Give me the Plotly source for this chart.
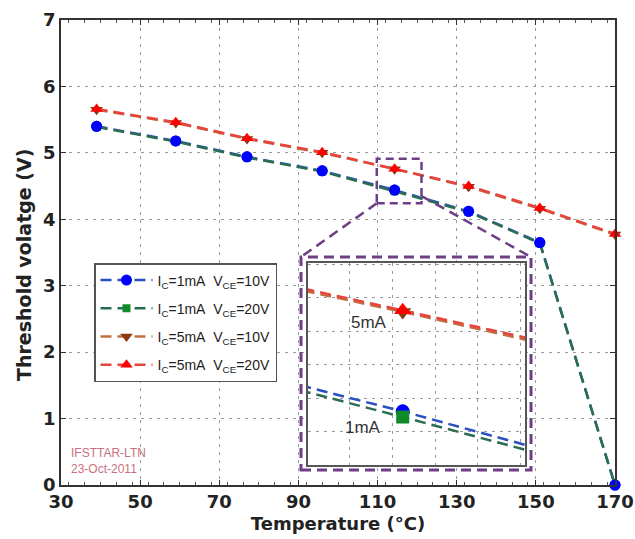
import plotly.graph_objects as go

# ---------------- data ----------------
temps = [39, 59, 77, 96, 114.3, 133, 151, 170]
vth_1mA_10V = [5.40, 5.18, 4.94, 4.73, 4.44, 4.12, 3.65, 0.0]
vth_1mA_20V = [5.39, 5.17, 4.93, 4.72, 4.422, 4.11, 3.64, 0.0]
vth_5mA_10V = [5.65, 5.45, 5.21, 5.00, 4.755, 4.49, 4.16, 3.77]
vth_5mA_20V = [5.66, 5.46, 5.22, 5.01, 4.76, 4.50, 4.17, 3.78]

series_names = [
    "I<sub>C</sub>=1mA&nbsp;&nbsp;V<sub>CE</sub>=10V",
    "I<sub>C</sub>=1mA&nbsp;&nbsp;V<sub>CE</sub>=20V",
    "I<sub>C</sub>=5mA&nbsp;&nbsp;V<sub>CE</sub>=10V",
    "I<sub>C</sub>=5mA&nbsp;&nbsp;V<sub>CE</sub>=20V",
]
x_ticks = [30, 50, 70, 90, 110, 130, 150, 170]
y_ticks = [0, 1, 2, 3, 4, 5, 6, 7]
x_range = [30, 170]
y_range = [0, 7]

# zoomed window shown in inset
inset_x_range = [109.5, 120.5]
inset_y_range = [4.27, 4.91]

# ---------------- styles ----------------
styles = [
    dict(line="#2a4fc0", marker="#0000ff", symbol="circle", size=11, isize=14),
    dict(line="#2b6e4f", marker="#118a2a", symbol="square", size=8, isize=13),
    dict(line="#c07040", marker="#8b3a10", symbol="triangle-down", size=11, isize=15),
    dict(line="#e6443c", marker="#ff0000", symbol="triangle-up", size=11, isize=15),
]
data = [vth_1mA_10V, vth_1mA_20V, vth_5mA_10V, vth_5mA_20V]

FONT = "DejaVu Sans, Arial, sans-serif"
ARIAL = "Arial, Liberation Sans, sans-serif"
DASH = "11px,6px"

fig = go.Figure()

for i in [0, 1, 2, 3]:
    s = styles[i]
    fig.add_trace(go.Scatter(
        x=temps, y=data[i], name=series_names[i], mode="lines+markers",
        line=dict(color=s["line"], width=2.5, dash=DASH),
        marker=dict(color=s["marker"], symbol=s["symbol"], size=s["size"],
                    line=dict(width=0)),
        cliponaxis=False, legendgroup=f"g{i}",
        xaxis="x", yaxis="y",
    ))
    if i == 1:
        # blue markers drawn on top of the green series in the main plot
        s0 = styles[0]
        fig.add_trace(go.Scatter(
            x=temps, y=data[0], mode="markers", showlegend=False,
            marker=dict(color=s0["marker"], symbol=s0["symbol"], size=s0["size"],
                        line=dict(width=0)),
            cliponaxis=False, xaxis="x", yaxis="y",
        ))

# inset traces
for i in [0, 1, 2, 3]:
    s = styles[i]
    fig.add_trace(go.Scatter(
        x=temps, y=data[i], mode="lines+markers", showlegend=False,
        line=dict(color=s["line"], width=2.5, dash=DASH),
        marker=dict(color=s["marker"], symbol=s["symbol"], size=s["isize"],
                    line=dict(width=0)),
        cliponaxis=True, xaxis="x2", yaxis="y2",
    ))

W, H = 635, 539
ml, mr, mt, mb = 61, 20, 20, 54
pw, ph = W - ml - mr, H - mt - mb

def px2paper_x(px):
    return (px - ml) / pw

def px2paper_y(py):
    return 1 - (py - mt) / ph

def dx2paper(x):
    return (x - x_range[0]) / (x_range[1] - x_range[0])

def dy2paper(y):
    return (y - y_range[0]) / (y_range[1] - y_range[0])

inset_dom_x = [px2paper_x(308), px2paper_x(525)]
inset_dom_y = [px2paper_y(465), px2paper_y(263)]
outer = dict(x0=px2paper_x(301), x1=px2paper_x(531), y0=px2paper_y(470), y1=px2paper_y(257))

purple = "#6e3f86"
shapes = []
shapes.append(dict(type="rect", xref="x", yref="y",
                   x0=inset_x_range[0] + 0.3, x1=inset_x_range[1] + 0.6,
                   y0=inset_y_range[0] - 0.03, y1=inset_y_range[1],
                   line=dict(color=purple, width=2.5, dash="8px,5px"), layer="above"))
shapes.append(dict(type="rect", xref="paper", yref="paper", **outer,
                   line=dict(color=purple, width=3, dash="10px,6px"), layer="above"))
shapes.append(dict(type="line", xref="paper", yref="paper",
                   x0=dx2paper(inset_x_range[0] + 0.3), y0=dy2paper(inset_y_range[0] - 0.03),
                   x1=outer["x0"], y1=outer["y1"],
                   line=dict(color=purple, width=2.5, dash="10px,6px"), layer="above"))
shapes.append(dict(type="line", xref="paper", yref="paper",
                   x0=dx2paper(inset_x_range[1] + 0.6), y0=dy2paper(inset_y_range[0] + 0.08),
                   x1=outer["x1"], y1=outer["y1"],
                   line=dict(color=purple, width=2.5, dash="10px,6px"), layer="above"))

annotations = [
    dict(text="IFSTTAR-LTN<br>23-Oct-2011", xref="paper", yref="paper",
         x=px2paper_x(69), y=px2paper_y(461), xanchor="left", yanchor="middle",
         showarrow=False, align="left", font=dict(family=ARIAL, size=12, color="#c9707e")),
    dict(text="5mA", xref="x2", yref="y2", x=112.6, y=4.72, showarrow=False,
         font=dict(family=ARIAL, size=17, color="#333333")),
    dict(text="1mA", xref="x2", yref="y2", x=112.3, y=4.39, showarrow=False,
         font=dict(family=ARIAL, size=17, color="#333333")),
    dict(text="Threshold volatge (V)", xref="paper", yref="paper", textangle=-90,
         x=px2paper_x(24), y=px2paper_y(265), xanchor="center", yanchor="middle",
         showarrow=False,
         font=dict(family=FONT, size=19, color="#222", weight="bold")),
]

grid_common = dict(gridcolor="#9a9a9a", griddash="3px,5px", gridwidth=1)

fig.update_layout(
    width=W, height=H,
    margin=dict(l=ml, r=mr, t=mt, b=mb, pad=0),
    paper_bgcolor="white", plot_bgcolor="white",
    showlegend=True,
    legend=dict(x=px2paper_x(94), y=px2paper_y(263), xanchor="left", yanchor="top",
                bgcolor="white", bordercolor="#555555", borderwidth=1.5,
                font=dict(family=ARIAL, size=14, color="#222222"),
                tracegroupgap=7, itemwidth=52, traceorder="grouped"),
    xaxis=dict(range=x_range, tickvals=x_ticks, ticks="inside", ticklen=5,
               tickcolor="#333", showline=True, linecolor="#333", linewidth=1.5,
               mirror="allticks", showgrid=True, zeroline=False,
               tickfont=dict(family=FONT, size=18, color="#222", weight="bold"),
               title=dict(text="Temperature (°C)", standoff=6,
                          font=dict(family=FONT, size=18, color="#222", weight="bold")),
               minor=dict(dtick=4, ticks="inside", ticklen=3, tickcolor="#555", showgrid=False),
               automargin=False, **grid_common),
    yaxis=dict(range=y_range, tickvals=y_ticks, ticks="inside", ticklen=5,
               tickcolor="#333", showline=True, linecolor="#333", linewidth=1.5,
               mirror="allticks", showgrid=True, zeroline=False,
               tickfont=dict(family=FONT, size=18, color="#222", weight="bold"),
               automargin=False, **grid_common),
    xaxis2=dict(domain=inset_dom_x, anchor="y2", range=inset_x_range,
                tick0=111.6, dtick=2.17, showticklabels=False, ticks="",
                showline=True, linecolor="#555", linewidth=2, mirror=True,
                zeroline=False, **grid_common),
    yaxis2=dict(domain=inset_dom_y, anchor="x2", range=inset_y_range,
                tick0=4.80, dtick=0.106, showticklabels=False, ticks="",
                showline=True, linecolor="#555", linewidth=2, mirror=True,
                zeroline=False, **grid_common),
    shapes=shapes,
    annotations=annotations,
)

fig.write_html("out.html")
